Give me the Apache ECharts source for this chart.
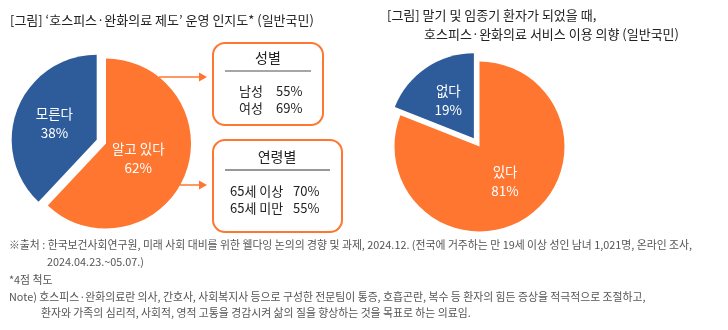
<!DOCTYPE html>
<html><head><meta charset="utf-8">
<script src="https://cdn.jsdelivr.net/npm/echarts@6/dist/echarts.min.js"></script>
<style>html,body{margin:0;padding:0;background:#fff}#c{width:728px;height:330px}</style>
</head><body><div id="c"></div>
<script>
const pie1Names = ['알고 있다', '모른다'];
const pie1Values = [62, 38];
const pie2Names = ['있다', '없다'];
const pie2Values = [81, 19];
const genderTitle = '성별';
const genderLabels = ['남성', '여성'];
const genderValues = [55, 69];
const ageTitle = '연령별';
const ageLabels = ['65세 이상', '65세 미만'];
const ageValues = [70, 55];
const title1 = '[그림] ‘호스피스·완화의료 제도’ 운영 인지도* (일반국민)';
const title2a = '[그림] 말기 및 임종기 환자가 되었을 때,';
const title2b = '호스피스·완화의료 서비스 이용 의향 (일반국민)';
const notes = [
  '※출처 : 한국보건사회연구원, 미래 사회 대비를 위한 웰다잉 논의의 경향 및 과제, 2024.12. (전국에 거주하는 만 19세 이상 성인 남녀 1,021명, 온라인 조사,',
  '2024.04.23.~05.07.)',
  '*4점 척도',
  'Note) 호스피스·완화의료란 의사, 간호사, 사회복지사 등으로 구성한 전문팀이 통증, 호흡곤란, 복수 등 환자의 힘든 증상을 적극적으로 조절하고,',
  '환자와 가족의 심리적, 사회적, 영적 고통을 경감시켜 삶의 질을 향상하는 것을 목표로 하는 의료임.'
];

const ORANGE = '#FE7630', BLUE = '#2E5B99';
const FONT = '"Noto Sans CJK KR", "Noto Sans", sans-serif';
const chart = echarts.init(document.getElementById('c'), null, {renderer: 'canvas'});

function pieData(names, values, offsets) {
  return names.map((n, i) => ({
    name: n, value: values[i], selected: i === 1,
    itemStyle: {color: i === 0 ? ORANGE : BLUE},
    label: {offset: offsets[i]}
  }));
}
const labelStyle = {
  show: true, position: 'inside', color: '#fff', fontSize: 13.5, lineHeight: 19,
  fontFamily: FONT, formatter: p => p.name + '\n' + p.value + '%'
};

const graphics = [];
function txt(x, y, s, opt) {
  graphics.push({type: 'text', x: x, y: y, style: Object.assign({
    text: s, fill: '#222', font: '13px ' + FONT, textVerticalAlign: 'middle', textAlign: 'left'
  }, opt || {})});
}
txt(10, 20, title1, {font: '13px ' + FONT});
txt(387, 15, title2a, {font: '13px ' + FONT});
txt(424, 34, title2b, {font: '13px ' + FONT});

// boxes
function box(x, y, w, h) {
  graphics.push({type: 'rect', shape: {x: x, y: y, width: w, height: h, r: 12},
    style: {fill: '#fff', stroke: ORANGE, lineWidth: 2}});
}
box(213, 43, 110, 82);
box(213, 140, 129, 92);
txt(268, 58, genderTitle, {textAlign: 'center', font: '14px ' + FONT});
graphics.push({type: 'line', shape: {x1: 225, y1: 71, x2: 311, y2: 71}, style: {stroke: '#888', lineWidth: 1.5}});
genderLabels.forEach((l, i) => {
  txt(239, 91 + i * 17, l, {font: '13px ' + FONT});
  txt(276, 91 + i * 17, genderValues[i] + '%', {font: '13px ' + FONT});
});
txt(277, 157, ageTitle, {textAlign: 'center', font: '14px ' + FONT});
graphics.push({type: 'line', shape: {x1: 225, y1: 170, x2: 330, y2: 170}, style: {stroke: '#333', lineWidth: 1.2}});
ageLabels.forEach((l, i) => {
  txt(230, 191 + i * 17, l, {font: '13px ' + FONT});
  txt(293, 191 + i * 17, ageValues[i] + '%', {font: '13px ' + FONT});
});
// arrows
function arrow(x1, x2, y) {
  graphics.push({type: 'line', shape: {x1: x1, y1: y, x2: x2 - 6, y2: y}, style: {stroke: ORANGE, lineWidth: 1.5}});
  graphics.push({type: 'polygon', shape: {points: [[x2 - 8, y - 4.5], [x2, y], [x2 - 8, y + 4.5]]}, style: {fill: ORANGE}});
}
arrow(159, 207, 77);
arrow(180, 207, 185);
// notes
const noteX = [9, 47, 9, 9, 41];
const noteY = [245, 262, 280, 297, 313];
notes.forEach((n, i) => txt(noteX[i], noteY[i], n, {fill: '#555', font: '10.85px ' + FONT}));

chart.setOption({
  animation: false,
  series: [
    {type: 'pie', center: [106, 143.5], radius: 85, startAngle: 90, clockwise: true,
     selectedMode: 'single', selectedOffset: 10, silent: true,
     label: labelStyle, labelLine: {show: false}, emphasis: {disabled: true},
     data: pieData(pie1Names, pie1Values, [[-10, -2], [-4, -2]])},
    {type: 'pie', center: [479.5, 146.5], radius: 85, startAngle: 90, clockwise: true,
     selectedMode: 'single', selectedOffset: 10, silent: true,
     label: labelStyle, labelLine: {show: false}, emphasis: {disabled: true},
     data: pieData(pie2Names, pie2Values, [[0, -3], [-4, -6]])}
  ],
  graphic: graphics
});
</script></body></html>
